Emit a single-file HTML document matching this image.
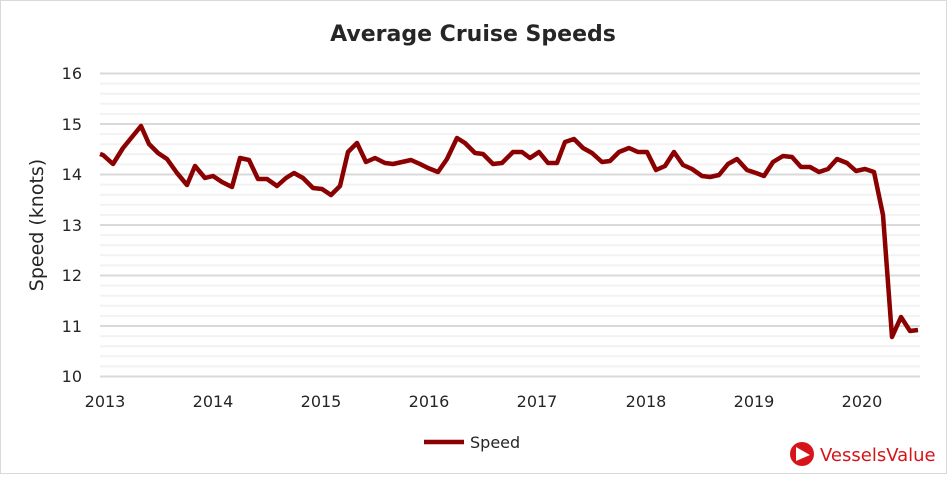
<!DOCTYPE html>
<html><head><meta charset="utf-8"><style>
body{margin:0;background:#fff;}
svg text{font-family:"DejaVu Sans","Liberation Sans",sans-serif;fill:#262626;}
</style></head><body>
<svg width="947" height="474" viewBox="0 0 947 474" xmlns="http://www.w3.org/2000/svg">
<rect x="0.5" y="0.5" width="946" height="473" fill="#fff" stroke="#d9d9d9"/>
<text x="473" y="41" text-anchor="middle" font-size="22" font-weight="bold">Average Cruise Speeds</text>
<g stroke="#f2f2f2" stroke-width="2">
<line x1="100" x2="920" y1="83.6" y2="83.6"/><line x1="100" x2="920" y1="93.7" y2="93.7"/><line x1="100" x2="920" y1="103.8" y2="103.8"/><line x1="100" x2="920" y1="113.9" y2="113.9"/>
<line x1="100" x2="920" y1="134.1" y2="134.1"/><line x1="100" x2="920" y1="144.2" y2="144.2"/><line x1="100" x2="920" y1="154.3" y2="154.3"/><line x1="100" x2="920" y1="164.4" y2="164.4"/>
<line x1="100" x2="920" y1="184.6" y2="184.6"/><line x1="100" x2="920" y1="194.7" y2="194.7"/><line x1="100" x2="920" y1="204.8" y2="204.8"/><line x1="100" x2="920" y1="214.9" y2="214.9"/>
<line x1="100" x2="920" y1="235.1" y2="235.1"/><line x1="100" x2="920" y1="245.2" y2="245.2"/><line x1="100" x2="920" y1="255.3" y2="255.3"/><line x1="100" x2="920" y1="265.4" y2="265.4"/>
<line x1="100" x2="920" y1="285.6" y2="285.6"/><line x1="100" x2="920" y1="295.7" y2="295.7"/><line x1="100" x2="920" y1="305.8" y2="305.8"/><line x1="100" x2="920" y1="315.9" y2="315.9"/>
<line x1="100" x2="920" y1="336.1" y2="336.1"/><line x1="100" x2="920" y1="346.2" y2="346.2"/><line x1="100" x2="920" y1="356.3" y2="356.3"/><line x1="100" x2="920" y1="366.4" y2="366.4"/>
</g>
<g stroke="#d9d9d9" stroke-width="2">
<line x1="100" x2="920" y1="73.5" y2="73.5"/><line x1="100" x2="920" y1="124" y2="124"/><line x1="100" x2="920" y1="174.5" y2="174.5"/><line x1="100" x2="920" y1="225" y2="225"/><line x1="100" x2="920" y1="275.5" y2="275.5"/><line x1="100" x2="920" y1="326" y2="326"/><line x1="100" x2="920" y1="376.5" y2="376.5"/>
</g>
<g font-size="16" text-anchor="end">
<text x="82" y="79">16</text><text x="82" y="130">15</text><text x="82" y="180">14</text><text x="82" y="231">13</text><text x="82" y="281">12</text><text x="82" y="332">11</text><text x="82" y="382">10</text>
</g>
<g font-size="16" text-anchor="middle">
<text x="105" y="407">2013</text><text x="213" y="407">2014</text><text x="321" y="407">2015</text><text x="429" y="407">2016</text><text x="537" y="407">2017</text><text x="646" y="407">2018</text><text x="754" y="407">2019</text><text x="862" y="407">2020</text>
</g>
<text transform="translate(43,225) rotate(-90)" font-size="19" text-anchor="middle">Speed (knots)</text>
<polyline fill="none" stroke="#8b0000" stroke-width="4.5" stroke-linejoin="round" points="100,154 103,155 113,164 123,148 132,137 141,126 149,144 158,153 167,159 177,173 187,185 195,166 205,178 213,176 222,182 232,187 240,158 249,160 258,179 267,179 277,186 286,178 294,173 303,178 313,188 322,189 331,195 340,186 348,152 357,143 366,162 375,158 385,163 393,164 402,162 411,160 420,164 428,168 438,172 447,159 457,138 465,143 475,153 483,154 493,164 502,163 513,152 522,152 530,158 539,152 548,163 557,163 565,142 574,139 583,148 592,153 602,162 610,161 619,152 629,148 638,152 647,152 656,170 665,166 674,152 683,165 692,169 702,176 710,177 719,175 728,164 737,159 747,170 756,173 764,176 773,162 783,156 792,157 801,167 810,167 819,172 828,169 837,159 847,163 856,171 865,169 874,172 883,215 892,337 901,317 910,331 918,330"/>
<line x1="424" x2="464" y1="442" y2="442" stroke="#8b0000" stroke-width="4.5"/>
<text x="470" y="448" font-size="16">Speed</text>
<circle cx="802" cy="454" r="12" fill="#d7141a"/>
<polygon points="796,447 796,461 810,455" fill="#fff"/>
<text x="820" y="461" font-size="18" style="fill:#d7141a" font-family="Liberation Sans,sans-serif">VesselsValue</text>
</svg>
</body></html>
